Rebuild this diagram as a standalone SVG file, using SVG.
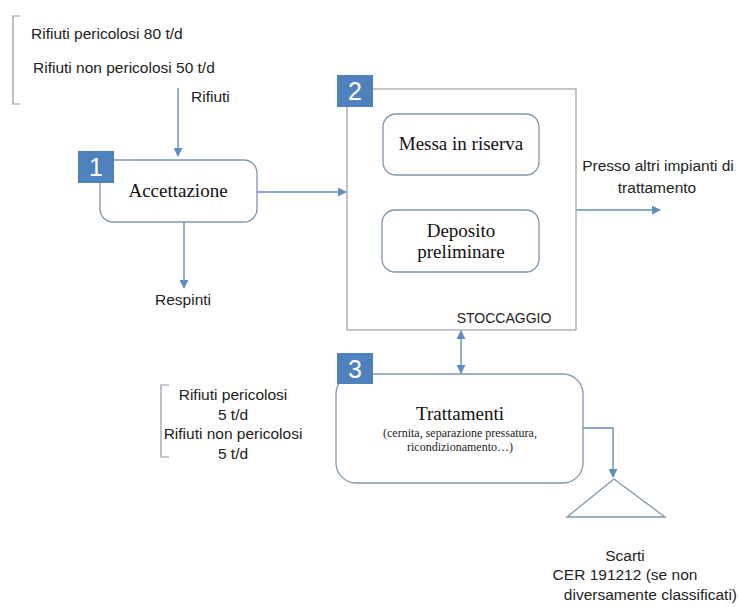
<svg xmlns="http://www.w3.org/2000/svg" width="739" height="607" viewBox="0 0 739 607">
<defs>
<style>
.sans{font-family:"Liberation Sans",Arial,sans-serif;font-size:15.5px;fill:#222}
.caps{font-family:"Liberation Sans",Arial,sans-serif;font-size:14px;fill:#222}
.serif{font-family:"Liberation Serif","Times New Roman",serif;font-size:19px;fill:#111}
.small{font-family:"Liberation Serif","Times New Roman",serif;font-size:12px;fill:#222}
.badge{fill:#4f81bd}
.badgetxt{font-family:"Liberation Sans",Arial,sans-serif;font-size:25px;fill:#fff}
.box{fill:#fff;stroke:#8096ad;stroke-width:1.3}
.gbox{fill:#fff;stroke:#a6a6a6;stroke-width:1.3}
.conn{fill:none;stroke:#5f8fc2;stroke-width:1.4}
.brk{fill:none;stroke:#8c9aa8;stroke-width:1.2}
</style>
<marker id="ah" viewBox="0 0 10 10" refX="9" refY="5" markerWidth="9" markerHeight="9" markerUnits="userSpaceOnUse" orient="auto-start-reverse">
<path d="M0,0 L10,5 L0,10 z" fill="#5f8fc2"/>
</marker>
</defs>
<rect width="739" height="607" fill="#fff"/>

<g id="input-top">
<path class="brk" d="M20,16 H13 V104 H20"/>
<text class="sans" x="31" y="39">Rifiuti pericolosi 80 t/d</text>
<text class="sans" x="33" y="73">Rifiuti non pericolosi 50 t/d</text>
<text class="sans" x="191" y="102">Rifiuti</text>
</g>

<g id="input-trattamenti">
<path class="brk" d="M169,385 H161 V457 H169"/>
<text class="sans" x="233" y="400" text-anchor="middle">Rifiuti pericolosi</text>
<text class="sans" x="233" y="420" text-anchor="middle">5 t/d</text>
<text class="sans" x="233" y="439" text-anchor="middle">Rifiuti non pericolosi</text>
<text class="sans" x="233" y="459" text-anchor="middle">5 t/d</text>
</g>

<g id="connectors">
<line class="conn" x1="178" y1="88" x2="178" y2="156" marker-end="url(#ah)"/>
<line class="conn" x1="257" y1="192" x2="346" y2="192" marker-end="url(#ah)"/>
<line class="conn" x1="184" y1="222" x2="184" y2="288" marker-end="url(#ah)"/>
<line class="conn" x1="576" y1="210" x2="660" y2="210" marker-end="url(#ah)"/>
<line class="conn" x1="461" y1="331" x2="461" y2="373" marker-start="url(#ah)" marker-end="url(#ah)"/>
<path class="conn" d="M583,428 H613 V477" marker-end="url(#ah)"/>
</g>

<g id="node1">
<rect class="box" x="100" y="160" width="157" height="62" rx="13"/>
<rect class="badge" x="78" y="151" width="36" height="32"/>
<text class="badgetxt" x="96" y="176" text-anchor="middle">1</text>
<text class="serif" x="178" y="197" text-anchor="middle">Accettazione</text>
</g>

<g id="respinti">
<text class="sans" x="183" y="305" text-anchor="middle">Respinti</text>
</g>

<g id="node2">
<rect class="gbox" x="347" y="89" width="229" height="241"/>
<rect class="badge" x="337" y="75" width="36" height="32"/>
<text class="badgetxt" x="355" y="100" text-anchor="middle">2</text>
<text class="caps" x="504" y="323" text-anchor="middle">STOCCAGGIO</text>
</g>

<g id="node2a">
<rect class="box" x="383" y="114" width="156" height="61" rx="13"/>
<text class="serif" x="461" y="150" text-anchor="middle">Messa in riserva</text>
</g>

<g id="node2b">
<rect class="box" x="382" y="210" width="157" height="62" rx="13"/>
<text class="serif" x="461" y="237" text-anchor="middle">Deposito</text>
<text class="serif" x="461" y="258" text-anchor="middle">preliminare</text>
</g>

<g id="presso">
<text class="sans" x="658" y="171" text-anchor="middle">Presso altri impianti di</text>
<text class="sans" x="657" y="193" text-anchor="middle">trattamento</text>
</g>

<g id="node3">
<rect class="box" x="336" y="374" width="247" height="109" rx="20"/>
<rect class="badge" x="337" y="353" width="36" height="31"/>
<text class="badgetxt" x="355" y="378" text-anchor="middle">3</text>
<text class="serif" x="460" y="420" text-anchor="middle">Trattamenti</text>
<text class="small" x="460" y="437" text-anchor="middle">(cernita, separazione pressatura,</text>
<text class="small" x="460" y="451" text-anchor="middle">ricondizionamento…)</text>
</g>

<g id="scarti">
<polygon points="614,479 567,517 665,517" fill="#fff" stroke="#8096ad" stroke-width="1.3"/>
<text class="sans" x="625" y="561" text-anchor="middle">Scarti</text>
<text class="sans" x="625" y="580" text-anchor="middle">CER 191212 (se non</text>
<text class="sans" x="737" y="600" text-anchor="end">diversamente classificati)</text>
</g>
</svg>
